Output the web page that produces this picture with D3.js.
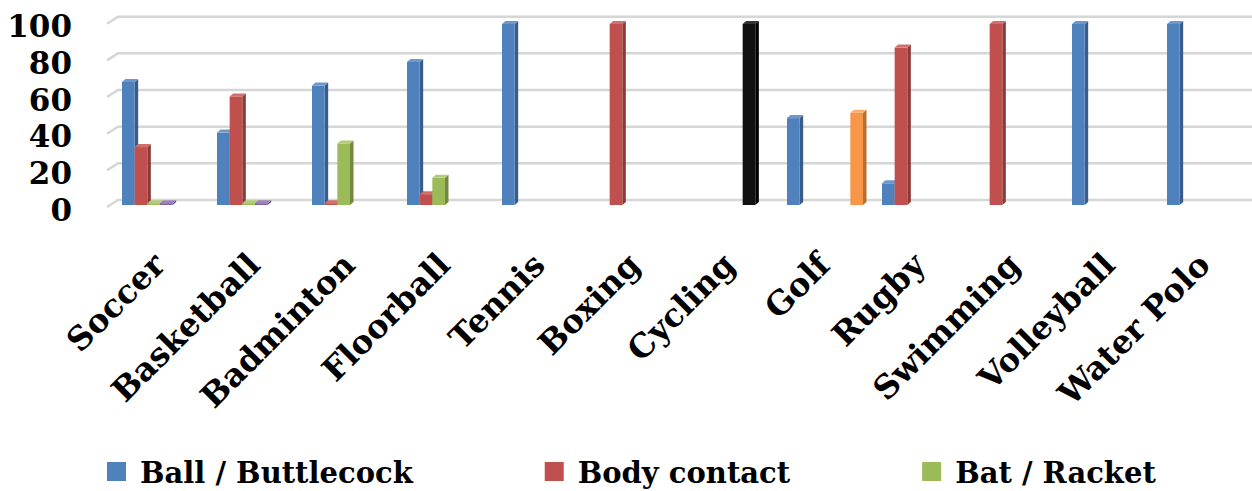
<!DOCTYPE html>
<html>
<head>
<meta charset="utf-8">
<script src="https://cdn.jsdelivr.net/npm/d3@7"></script>
<style>
  html, body { margin: 0; padding: 0; background: #ffffff; }
  svg { display: block; }
  text { font-family: "DejaVu Serif", serif; font-weight: bold; fill: #000; }
</style>
</head>
<body>
<svg id="chart" width="1252" height="491"></svg>
<script>
// Sports and the kind of equipment / contact involved (percent)
const categories = ["Soccer", "Basketball", "Badminton", "Floorball", "Tennis", "Boxing",
                    "Cycling", "Golf", "Rugby", "Swimming", "Volleyball", "Water Polo"];

const ballButtlecock = [68, 40, 66, 79, 100, null, null, 48, 12, null, 100, 100];
const bodyContact    = [32, 60, 1, 6, null, 100, null, null, 87, 100, null, null];
const batRacket      = [1, 1, 34, 15, null, null, null, null, null, null, null, null];
const otherGear      = [1, 1, null, null, null, null, null, null, null, null, null, null];
const bicycle        = [null, null, null, null, null, null, 100, null, null, null, null, null];
const club           = [null, null, null, null, null, null, null, 51, null, null, null, null];

const yTicks = [0, 20, 40, 60, 80, 100];

const seriesList = [
  { key: "ball",  name: "Ball / Buttlecock", values: ballButtlecock, front: "#4F81BD", side: "#385D8A", top: "#6E98CB", legend: true },
  { key: "body",  name: "Body contact",      values: bodyContact,    front: "#C0504D", side: "#8C3A38", top: "#CF706D", legend: true },
  { key: "bat",   name: "Bat / Racket",      values: batRacket,      front: "#9BBB59", side: "#718A3F", top: "#B2CB7C", legend: true },
  { key: "other", name: "Other",             values: otherGear,      front: "#8064A2", side: "#5D4977", top: "#9B85B8", legend: false },
  { key: "bike",  name: "Bicycle",           values: bicycle,        front: "#111111", side: "#000000", top: "#333333", legend: false },
  { key: "club",  name: "Club",              values: club,           front: "#F79646", side: "#B86D31", top: "#F9AF72", legend: false }
];

const svg = d3.select("#chart");

// 3D layout: back wall, side-wall depth, bar depth
const wallLeft = 118, wallRight = 1252;
const depthX = -11, depthY = 7;      // side wall/floor depth
const barDX = 3.5, barDY = -3;        // bar extrusion

const yBack  = d3.scaleLinear().domain([0, 100]).range([200, 16.7]);
const yEdge  = d3.scaleLinear().domain([0, 100]).range([200 + depthY, 16.7 + depthY]);
const yFront = d3.scaleLinear().domain([0, 100]).range([205, 24]);

const x0 = d3.scaleBand().domain(categories).range([112.5, 1252.5])
  .paddingInner(0.2).paddingOuter(0.1);
const x1 = d3.scaleBand().domain(seriesList.map(s => s.key)).range([0, x0.bandwidth()]);

// gridlines on the back wall with the short side-wall segment
const grid = svg.append("g").attr("class", "grid");
grid.selectAll("path").data(yTicks).join("path")
  .attr("d", t => `M${wallLeft + depthX},${yEdge(t)}L${wallLeft},${yBack(t)}L${wallRight},${yBack(t)}`)
  .attr("fill", "none")
  .attr("stroke", "#d6d6d6")
  .attr("stroke-width", 2.5);

// y axis labels
const yAxis = d3.axisLeft(yEdge).tickValues(yTicks).tickSize(0).tickPadding(0);
const yG = svg.append("g").attr("transform", "translate(72,0)").call(yAxis);
yG.select(".domain").remove();
yG.selectAll("text")
  .attr("dy", "0.42em")
  .style("font-family", '"DejaVu Serif", serif')
  .style("font-weight", "bold")
  .style("font-size", "31px")
  .attr("fill", "#000");

// bars drawn as front face, right side face and top face
const bars = svg.append("g").attr("class", "bars");
categories.forEach((cat, ci) => {
  seriesList.forEach(s => {
    const v = s.values[ci];
    if (v === null || v === undefined) return;
    const xl = x0(cat) + x1(s.key);
    const w = x1.bandwidth();
    const yt = yFront(v), yb = yFront(0);
    const g = bars.append("g");
    g.append("path")
      .attr("d", `M${xl + w},${yt}L${xl + w + barDX},${yt + barDY}L${xl + w + barDX},${yb + barDY}L${xl + w},${yb}Z`)
      .attr("fill", s.side);
    g.append("rect")
      .attr("x", xl).attr("y", yt)
      .attr("width", w).attr("height", Math.max(0, yb - yt))
      .attr("fill", s.front);
    g.append("path")
      .attr("d", `M${xl},${yt}L${xl + barDX},${yt + barDY}L${xl + w + barDX},${yt + barDY}L${xl + w},${yt}Z`)
      .attr("fill", s.top);
  });
});

// category labels, rotated
const xLab = svg.append("g").attr("class", "x-labels");
xLab.selectAll("text").data(categories).join("text")
  .attr("transform", d => `translate(${x0(d) + x0.bandwidth() / 2 + 7},267) rotate(-45)`)
  .attr("text-anchor", "end")
  .style("font-size", "32.5px")
  .text(d => d);

// legend (three named series)
const legendItems = seriesList.filter(s => s.legend);
const legend = svg.append("g").attr("class", "legend");
let lx = 107;
legendItems.forEach(s => {
  const item = legend.append("g");
  item.append("rect").attr("x", lx).attr("y", 462).attr("width", 19).attr("height", 19).attr("fill", s.front);
  const t = item.append("text").attr("x", lx + 33).attr("y", 483)
    .style("font-size", "29px").text(s.name);
  const tw = t.node().getComputedTextLength();
  lx = lx + 33 + tw + 132;
});
</script>
</body>
</html>
